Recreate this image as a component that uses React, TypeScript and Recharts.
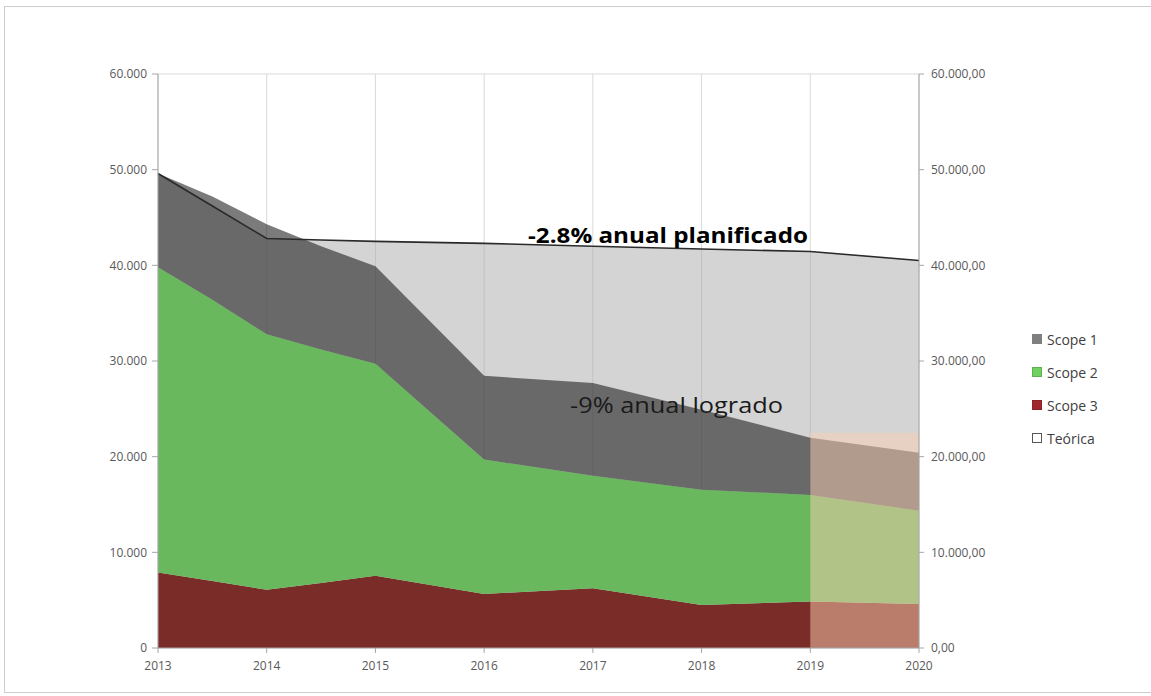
import React from "react";
import {
  ComposedChart,
  Area,
  Line,
  XAxis,
  YAxis,
  CartesianGrid,
  ReferenceArea,
} from "recharts";

// ---- data ----
const years = [2013, 2013.5, 2014, 2014.5, 2015, 2016, 2017, 2018, 2019, 2020];
const scope3 = [7900, 7000, 6100, 6800, 7550, 5650, 6250, 4500, 4850, 4600];
const scope2 = [31900, 29400, 26700, 24400, 22150, 14050, 11750, 12050, 11150, 9750];
const scope1 = [9800, 10800, 11500, 10800, 10200, 8750, 9700, 8350, 5990, 6070];
const teorica = [49600, 46200, 42800, 42650, 42500, 42300, 42000, 41700, 41450, 40500];

const xTicks = [2013, 2014, 2015, 2016, 2017, 2018, 2019, 2020];
const yTicks = [0, 10000, 20000, 30000, 40000, 50000, 60000];

const forecastFrom = 2019;
const forecastTo = 2020;
const forecastTop = 22500;

const annotationPlan = "-2.8% anual planificado";
const annotationDone = "-9% anual logrado";

const legendItems = [
  { name: "Scope 1", color: "#7f7f7f", border: "#7f7f7f" },
  { name: "Scope 2", color: "#6fd25f", border: "#5fb050" },
  { name: "Scope 3", color: "#a0282c", border: "#8a2226" },
  { name: "Teórica", color: "#ffffff", border: "#555555" },
];

const data = years.map((year, i) => ({
  year,
  scope1: scope1[i],
  scope2: scope2[i],
  scope3: scope3[i],
  teorica: teorica[i],
}));

const thousands = (v: number) =>
  Math.round(v)
    .toString()
    .replace(/\B(?=(\d{3})+(?!\d))/g, ".");
const fmtLeft = (v: number) => thousands(v);
const fmtRight = (v: number) => `${thousands(v)},00`;

const FONT = "'Open Sans', 'Liberation Sans', sans-serif";
const tickStyle = { fontSize: 12, fill: "#595959", fontFamily: FONT };

export default function App() {
  return (
    <div
      style={{
        position: "absolute",
        left: 0,
        top: 0,
        width: 1151,
        height: 696,
        background: "#ffffff",
        overflow: "hidden",
        fontFamily: FONT,
      }}
    >
      <div
        style={{
          position: "absolute",
          left: 4,
          top: 6,
          width: 1160,
          height: 687,
          border: "1px solid #cdcdcd",
          boxSizing: "border-box",
        }}
      />
      <ComposedChart
        width={1151}
        height={696}
        data={data}
        margin={{ top: 74, right: 152, bottom: 18, left: 98 }}
      >
        <CartesianGrid stroke="#d9d9d9" strokeWidth={1} />
        <XAxis
          dataKey="year"
          type="number"
          domain={[2013, 2020]}
          ticks={xTicks}
          interval={0}
          height={30}
          tick={tickStyle}
          tickSize={5}
          tickMargin={8}
          axisLine={{ stroke: "#a6a6a6" }}
          tickLine={{ stroke: "#a6a6a6" }}
        />
        <YAxis
          yAxisId="left"
          domain={[0, 60000]}
          ticks={yTicks}
          width={60}
          tick={tickStyle}
          tickFormatter={fmtLeft}
          tickSize={6}
          tickMargin={5}
          axisLine={{ stroke: "#a6a6a6" }}
          tickLine={{ stroke: "#a6a6a6" }}
        />
        <YAxis
          yAxisId="right"
          orientation="right"
          domain={[0, 60000]}
          ticks={yTicks}
          width={80}
          tick={tickStyle}
          tickFormatter={fmtRight}
          tickSize={5}
          tickMargin={7}
          axisLine={{ stroke: "#a6a6a6" }}
          tickLine={{ stroke: "#a6a6a6" }}
        />
        <Area
          yAxisId="left"
          type="linear"
          dataKey="teorica"
          name="Teórica"
          fill="#aaaaaa"
          fillOpacity={0.5}
          stroke="none"
          isAnimationActive={false}
          dot={false}
          activeDot={false}
        />
        <Area
          yAxisId="left"
          type="linear"
          dataKey="scope3"
          name="Scope 3"
          stackId="s"
          fill="#7a2c28"
          fillOpacity={1}
          stroke="none"
          isAnimationActive={false}
          dot={false}
          activeDot={false}
        />
        <Area
          yAxisId="left"
          type="linear"
          dataKey="scope2"
          name="Scope 2"
          stackId="s"
          fill="#6ab85e"
          fillOpacity={1}
          stroke="none"
          isAnimationActive={false}
          dot={false}
          activeDot={false}
        />
        <Area
          yAxisId="left"
          type="linear"
          dataKey="scope1"
          name="Scope 1"
          stackId="s"
          fill="#1c1c1c"
          fillOpacity={0.58}
          stroke="none"
          isAnimationActive={false}
          dot={false}
          activeDot={false}
        />
        <Line
          yAxisId="right"
          type="linear"
          dataKey="teorica"
          name="Teórica línea"
          stroke="#2a2a2a"
          strokeWidth={1.6}
          dot={false}
          activeDot={false}
          isAnimationActive={false}
        />
        <ReferenceArea
          yAxisId="left"
          x1={forecastFrom}
          x2={forecastTo}
          y1={0}
          y2={forecastTop}
          fill="#f9cdaf"
          fillOpacity={0.5}
          stroke="none"
        />
      </ComposedChart>
      <svg
        width={1151}
        height={696}
        style={{ position: "absolute", left: 0, top: 0, pointerEvents: "none" }}
      >
        <text
          x={528}
          y={243}
          fontFamily={FONT}
          fontWeight="bold"
          fontSize={22}
          fill="#000000"
          textLength={280}
          lengthAdjust="spacingAndGlyphs"
        >
          {annotationPlan}
        </text>
        <text
          x={570}
          y={413}
          fontFamily={FONT}
          fontSize={22}
          fill="#1a1a1a"
          textLength={213}
          lengthAdjust="spacingAndGlyphs"
        >
          {annotationDone}
        </text>
      </svg>
      <div style={{ position: "absolute", left: 1032, top: 329 }}>
        {legendItems.map((it) => (
          <div
            key={it.name}
            style={{
              display: "flex",
              alignItems: "center",
              height: 20,
              marginBottom: 13,
            }}
          >
            <div
              style={{
                width: 10,
                height: 10,
                background: it.color,
                border: `1px solid ${it.border}`,
                boxSizing: "border-box",
                marginRight: 5,
              }}
            />
            <span style={{ fontSize: 14, color: "#404040", fontFamily: FONT }}>
              {it.name}
            </span>
          </div>
        ))}
      </div>
    </div>
  );
}
